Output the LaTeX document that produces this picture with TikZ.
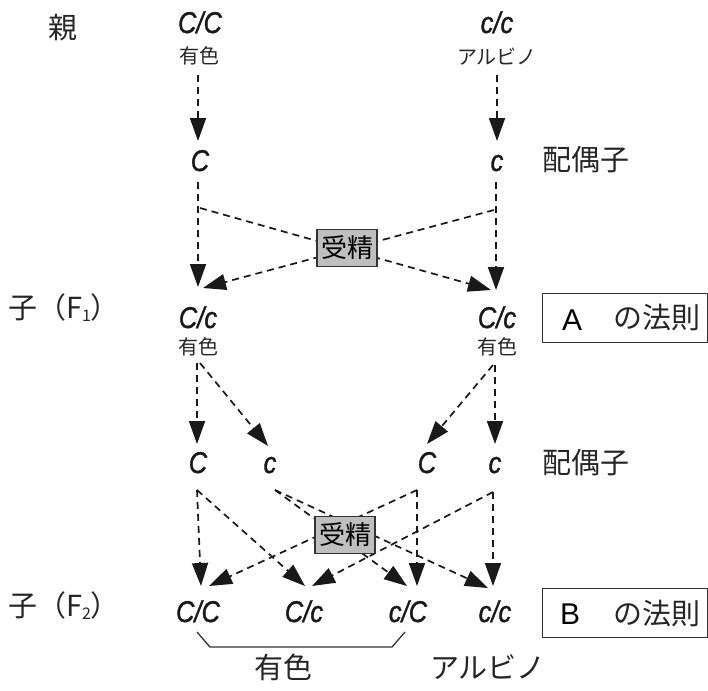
\documentclass[tikz,border=0pt]{standalone}
\usepackage{fontspec}
\newfontfamily\jp{Noto Sans CJK JP}
\newfontfamily\gfont[FakeStretch=0.85,FakeBold=1.2]{Liberation Sans}
\newfontfamily\lsans{Liberation Sans}
\usetikzlibrary{arrows.meta}
\begin{document}
\begin{tikzpicture}[x=1pt,y=-1pt,
  geno/.style={font=\gfont\itshape\fontsize{30}{30}\selectfont, inner sep=0pt, anchor=base, text=black!90},
  small/.style={font=\jp\fontsize{20}{20}\selectfont, inner sep=0pt, text=black!85},
  big/.style={font=\jp\fontsize{29}{29}\selectfont, inner sep=0pt, text=black!85},
  dl/.style={draw=black!90, line width=1.7pt, dash pattern=on 7pt off 5pt, -{Triangle[length=23pt,width=16pt]}},
  fert/.style={draw=black!80, line width=1.2pt, fill=black!25, minimum width=60pt, minimum height=37pt, inner sep=0pt, font=\jp\fontsize{26}{26}\selectfont},
  law/.style={draw=black!80, line width=1pt, minimum width=165pt, minimum height=49pt, inner sep=0pt},
  brk/.style={draw=black!80, line width=1.3pt}
]
\useasboundingbox (0,0) rectangle (708,690);
\fill[white] (0,0) rectangle (708,690);

% parents
\node[big] (oya) at (63,28) {親};
\node[geno] (p1) at (200,33) {C/C};
\node[small] (p1t) at (199,56) {有色};
\node[geno] (p2) at (497,33) {c/c};
\node[small] (p2t) at (497,57) {アルビノ};

% gametes 1
\node[geno] (g1) at (200,171) {C};
\node[geno] (g2) at (497,171) {c};
\node[big] (hai1) at (586,160) {配偶子};

% F1
\node[big] (f1lab) at (64,308) {子（F\raisebox{-3pt}{\fontsize{16}{16}\selectfont 1}）};
\node[geno] (f1a) at (198,328) {C/c};
\node[small] (f1at) at (198,347) {有色};
\node[geno] (f1b) at (497,328) {C/c};
\node[small] (f1bt) at (497,347) {有色};
\node[law] (lawA) at (624.5,317.5) {};
\node[font=\lsans\fontsize{30}{30}\selectfont, inner sep=0pt] (A) at (572,320) {A};
\node[big] (hA) at (657,318) {の法則};

% gametes 2
\node[geno] (h1) at (198,473) {C};
\node[geno] (h2) at (270,473) {c};
\node[geno] (h3) at (427,473) {C};
\node[geno] (h4) at (495,473) {c};
\node[big] (hai2) at (586,463) {配偶子};

% F2
\node[big] (f2lab) at (64,606) {子（F\raisebox{-3pt}{\fontsize{16}{16}\selectfont 2}）};
\node[geno] (k1) at (198,622) {C/C};
\node[geno] (k2) at (304,622) {C/c};
\node[geno] (k3) at (408,622) {c/C};
\node[geno] (k4) at (495,622) {c/c};
\node[law] (lawB) at (624.5,612.5) {};
\node[font=\lsans\fontsize{30}{30}\selectfont, inner sep=0pt] (B) at (570,614) {B};
\node[big] (hB) at (657,613) {の法則};

\node[big] (yu) at (283,667) {有色};
\node[big] (al) at (488,667) {アルビノ};

% coordinates
\coordinate (p1s) at (198,75);  \coordinate (p1e) at (198,141);
\coordinate (p2s) at (497,75);  \coordinate (p2e) at (497,141);
\coordinate (g1s) at (198,182); \coordinate (g1e) at (198,287);
\coordinate (g1c) at (200,208); \coordinate (g1x) at (491,290);
\coordinate (g2s) at (496,182); \coordinate (g2e) at (496,290);
\coordinate (g2c) at (494,210); \coordinate (g2x) at (203,288);

\coordinate (fa) at (197,363);  \coordinate (fa2) at (200,363);
\coordinate (fb) at (495,365);  \coordinate (fb2) at (493,365);
\coordinate (t1) at (197,444);  \coordinate (t2) at (268,446);
\coordinate (t3) at (427,444);  \coordinate (t4) at (495,444);

\coordinate (s1) at (197,490); \coordinate (s2) at (275,490);
\coordinate (s3) at (417,490); \coordinate (s4) at (493,492);
\coordinate (e11) at (201,586); \coordinate (e12) at (305,586);
\coordinate (e21) at (407,586); \coordinate (e22) at (488,588);
\coordinate (e31) at (417,586); \coordinate (e32) at (209,586);
\coordinate (e41) at (493,586); \coordinate (e42) at (312,586);

% arrows top
\draw[dl] (p1s) -- (p1e);
\draw[dl] (p2s) -- (p2e);
\draw[dl] (g1s) -- (g1e);
\draw[dl] (g2s) -- (g2e);
\draw[dl] (g1c) -- (g1x);
\draw[dl] (g2c) -- (g2x);
\node[fert] (fz1) at (347,248) {受精};

% F1 to gametes
\draw[dl] (fa) -- (t1);
\draw[dl] (fa2) -- (t2);
\draw[dl] (fb2) -- (t3);
\draw[dl] (fb) -- (t4);

% gametes to F2
\draw[dl] (s1) -- (e11);
\draw[dl] (s1) -- (e12);
\draw[dl] (s2) -- (e21);
\draw[dl] (s2) -- (e22);
\draw[dl] (s3) -- (e31);
\draw[dl] (s3) -- (e32);
\draw[dl] (s4) -- (e41);
\draw[dl] (s4) -- (e42);
\node[fert] (fz2) at (345,535) {受精};

% bracket
\coordinate (b1) at (197,632); \coordinate (b2) at (210,647);
\coordinate (b3) at (392,647); \coordinate (b4) at (405,632);
\draw[brk] (b1) -- (b2) -- (b3) -- (b4);
\end{tikzpicture}
\end{document}
